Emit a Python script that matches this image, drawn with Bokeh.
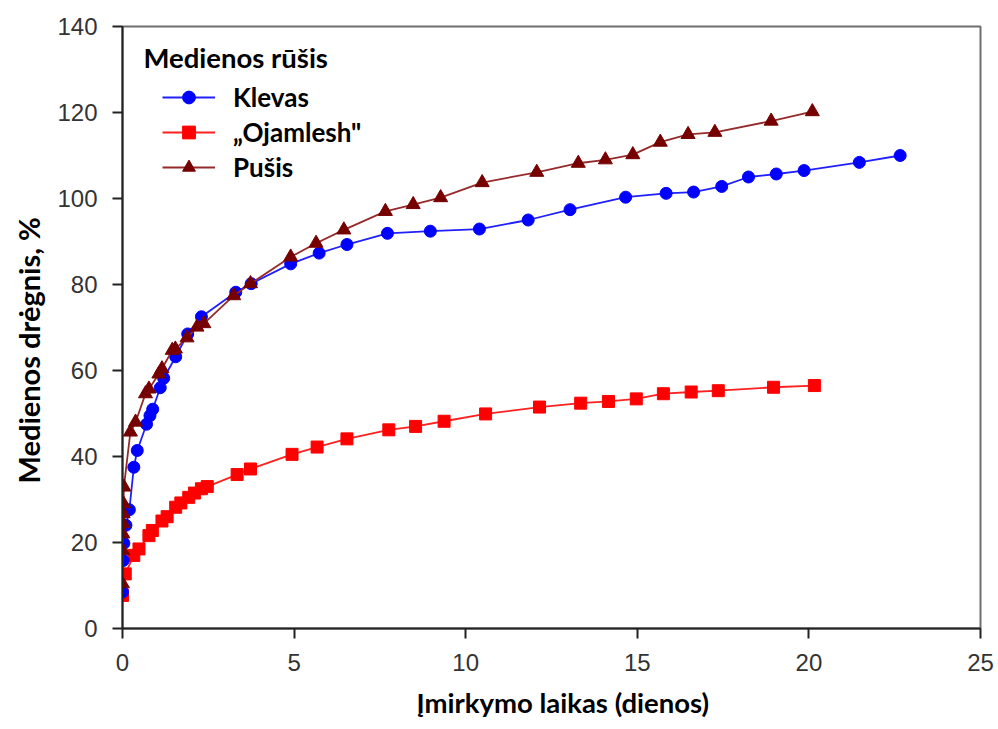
from bokeh.plotting import figure
from bokeh.models import (Range1d, FixedTicker, Legend, LegendItem, Label, Title)
from bokeh.embed import file_html
from bokeh.resources import INLINE

# Soaking time (days) and wood moisture content (%) for each species
klevas_x = [0.0, 0.02, 0.04, 0.1, 0.2, 0.33, 0.43, 0.7, 0.8, 0.88, 1.1, 1.2,
            1.55, 1.9, 2.3, 3.3, 3.75, 4.9, 5.73, 6.54, 7.72, 8.97, 10.4,
            11.82, 13.04, 14.66, 15.84, 16.64, 17.46, 18.24, 19.05, 19.86,
            21.47, 22.66]
klevas_y = [8.5, 15.8, 19.8, 24.0, 27.6, 37.5, 41.4, 47.5, 49.5, 51.0, 56.0,
            58.2, 63.2, 68.5, 72.5, 78.2, 80.2, 84.8, 87.3, 89.3, 91.9, 92.4,
            92.9, 95.0, 97.4, 100.3, 101.2, 101.5, 102.8, 105.0, 105.7, 106.5,
            108.4, 110.0]

ojamlesh_x = [0.0, 0.08, 0.33, 0.48, 0.77, 0.87, 1.15, 1.3, 1.55, 1.7, 1.93,
              2.1, 2.3, 2.47, 3.34, 3.73, 4.94, 5.67, 6.54, 7.76, 8.54, 9.37,
              10.58, 12.15, 13.35, 14.16, 14.97, 15.76, 16.57, 17.36, 18.97,
              20.16]
ojamlesh_y = [7.7, 12.7, 17.0, 18.5, 21.6, 22.8, 25.0, 26.0, 28.2, 29.2, 30.5,
              31.5, 32.5, 33.0, 35.8, 37.1, 40.5, 42.2, 44.1, 46.2, 47.0, 48.2,
              49.9, 51.5, 52.4, 52.8, 53.4, 54.6, 55.0, 55.3, 56.1, 56.5]

pusis_x = [0.0, 0.01, 0.01, 0.02, 0.02, 0.03, 0.04, 0.23, 0.38, 0.67, 0.77,
           1.06, 1.15, 1.45, 1.54, 1.88, 2.17, 2.37, 3.24, 3.73, 4.9, 5.64,
           6.45, 7.66, 8.47, 9.27, 10.48, 12.07, 13.28, 14.07, 14.87, 15.67,
           16.48, 17.26, 18.9, 20.1]
pusis_y = [10.4, 18.1, 22.0, 24.4, 26.7, 29.0, 32.9, 45.7, 48.0, 54.6, 55.7,
           59.2, 60.4, 64.7, 65.0, 67.6, 70.1, 70.9, 77.4, 80.2, 86.4, 89.6,
           92.7, 97.0, 98.6, 100.2, 103.7, 106.1, 108.2, 109.0, 110.2, 113.1,
           114.9, 115.4, 118.0, 120.2]

x_ticks = [0, 5, 10, 15, 20, 25]
y_ticks = [0, 20, 40, 60, 80, 100, 120, 140]

series_names = ["Klevas", "\u201eOjamlesh\"", "Pu\u0161is"]
legend_title = "Medienos r\u016b\u0161is"
x_title = "\u012emirkymo laikas (dienos)"
y_title = "Medienos dr\u0117gnis, %"

LABEL_FONT = "Lato"
TICK_FONT = "Liberation Sans"

p = figure(width=998, height=729, output_backend="svg", toolbar_location=None,
           x_range=Range1d(0, 25), y_range=Range1d(0, 140),
           min_border_left=122, min_border_right=18,
           min_border_top=26, min_border_bottom=101)

p.background_fill_color = "white"
p.border_fill_color = "white"
p.outline_line_color = "#6e6e6e"
p.outline_line_width = 2
p.xgrid.visible = False
p.ygrid.visible = False

for ax, ticks in ((p.xaxis[0], x_ticks), (p.yaxis[0], y_ticks)):
    ax.ticker = FixedTicker(ticks=ticks)
    ax.minor_tick_line_color = None
    ax.major_tick_in = 0
    ax.major_tick_out = 10
    ax.major_tick_line_width = 2
    ax.major_tick_line_color = "#222222"
    ax.axis_line_width = 2
    ax.axis_line_color = "#222222"
    ax.major_label_text_font = TICK_FONT
    ax.major_label_text_font_size = "24px"
    ax.major_label_text_color = "#333333"
    ax.major_label_standoff = 15

# Axis titles as side panels, positioned along their axes from the frame edge
p.add_layout(Title(text=x_title, align="left", offset=294, standoff=20,
                   text_line_height=1.0,
                   text_font=LABEL_FONT, text_font_style="bold",
                   text_font_size="27.5px", text_color="black"), "below")
p.add_layout(Title(text=y_title, align="left", offset=145, standoff=17,
                   text_font=LABEL_FONT, text_font_style="bold",
                   text_font_size="29px", text_color="black"), "left")

# Series: Ojamlesh (red squares), Klevas (blue circles), Pušis (dark red triangles)
r_line = p.line(ojamlesh_x, ojamlesh_y, line_color="#ff2020", line_width=1.8)
r_mark = p.scatter(ojamlesh_x, ojamlesh_y, marker="square", size=12,
                   fill_color="#ff0000", line_color="#ff0000")

b_line = p.line(klevas_x, klevas_y, line_color="#2020ff", line_width=1.8)
b_mark = p.scatter(klevas_x, klevas_y, marker="circle", size=12,
                   fill_color="#0000ff", line_color="#0000ff")

t_line = p.line(pusis_x, pusis_y, line_color="#962a2a", line_width=1.8)
t_mark = p.scatter(pusis_x, pusis_y, marker="triangle", size=14,
                   fill_color="#760000", line_color="#760000")

legend = Legend(items=[
    LegendItem(label=series_names[0], renderers=[b_line, b_mark]),
    LegendItem(label=series_names[1], renderers=[r_line, r_mark]),
    LegendItem(label=series_names[2], renderers=[t_line, t_mark]),
], location=(40, 445))
legend.border_line_color = None
legend.background_fill_alpha = 0
legend.padding = 0
legend.margin = 0
legend.spacing = 3
legend.glyph_width = 53
legend.glyph_height = 32
legend.label_height = 32
legend.label_standoff = 18
legend.label_text_font = LABEL_FONT
legend.label_text_font_style = "bold"
legend.label_text_font_size = "26px"
legend.label_text_color = "black"
p.add_layout(legend, "center")

p.add_layout(Label(x=0.61, y=132.8, text=legend_title, text_font=LABEL_FONT,
                   text_font_style="bold", text_font_size="27.5px",
                   text_color="black", text_baseline="middle"))

open("out.html", "w").write(file_html(p, INLINE))
